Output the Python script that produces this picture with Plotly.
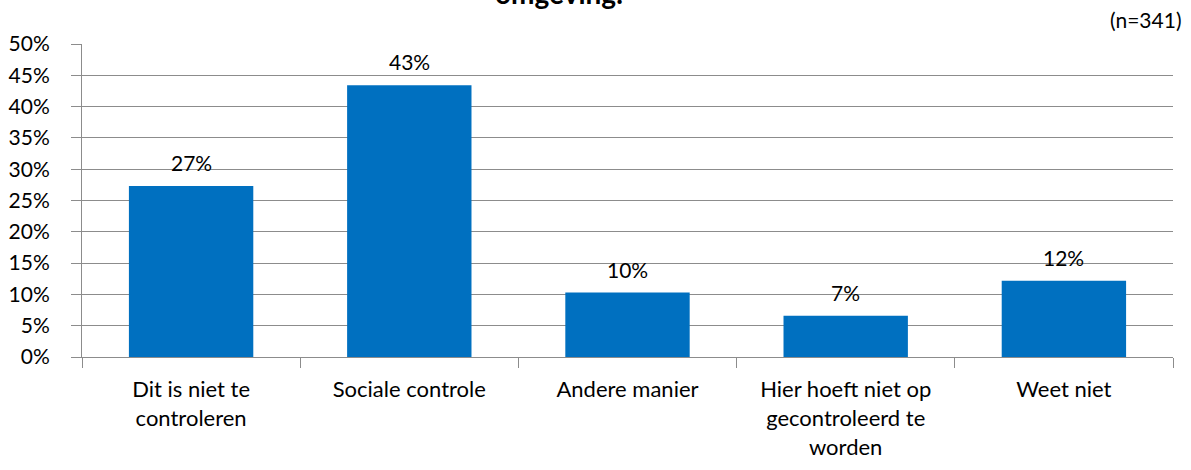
import plotly.graph_objects as go

# ── Data ────────────────────────────────────────────────────────────────────
categories = [
    "Dit is niet te<br>controleren",
    "Sociale controle",
    "Andere manier",
    "Hier hoeft niet op<br>gecontroleerd te<br>worden",
    "Weet niet",
]
values = [27.3, 43.4, 10.3, 6.6, 12.2]
y_ticks = [0, 5, 10, 15, 20, 25, 30, 35, 40, 45, 50]
y_ticklabels = [f"{t}%" for t in y_ticks]

BAR_COLOR = "#0070C0"
GRID_COLOR = "#8C8C8C"
FONT = "Lato, 'Open Sans', sans-serif"

fig = go.Figure(
    go.Bar(
        x=categories,
        y=values,
        marker=dict(color=BAR_COLOR, line=dict(width=0)),
        width=0.57,
        hoverinfo="x+y",
    )
)

# value labels above the bars
for cat, val in zip(categories, values):
    fig.add_annotation(
        x=cat, y=val,
        text=f"{val:.0f}%",
        xanchor="center", yanchor="bottom",
        yshift=9,
        showarrow=False,
        font=dict(size=21, family=FONT, color="#000000"),
    )

fig.update_layout(
    width=1191,
    height=470,
    margin=dict(l=82, r=18, t=44, b=113),
    paper_bgcolor="#ffffff",
    plot_bgcolor="#ffffff",
    font=dict(family=FONT, size=21, color="#000000"),
    showlegend=False,
    xaxis=dict(
        automargin=False,
        showgrid=False,
        showline=True,
        linecolor=GRID_COLOR,
        linewidth=1,
        ticks="outside",
        tickson="boundaries",
        ticklen=10,
        tickcolor=GRID_COLOR,
        ticklabelstandoff=13,
        tickfont=dict(size=22),
    ),
    yaxis=dict(
        automargin=False,
        range=[0, 50],
        tickvals=y_ticks,
        ticktext=y_ticklabels,
        showgrid=True,
        gridcolor=GRID_COLOR,
        gridwidth=1,
        zeroline=False,
        showline=True,
        linecolor=GRID_COLOR,
        linewidth=1,
        ticks="outside",
        ticklen=10,
        tickcolor=GRID_COLOR,
        ticklabelstandoff=17,
        tickfont=dict(size=21),
    ),
)

# Title (only its last line is visible in the frame)
fig.add_annotation(
    text="<b>omgeving.</b>",
    xref="paper", yref="paper",
    x=0.437, y=1.0,
    xanchor="center", yanchor="bottom",
    yshift=32,
    showarrow=False,
    font=dict(size=28, family=FONT, color="#000000"),
)

fig.add_annotation(
    text="(n=341)",
    xref="paper", yref="paper",
    x=1.0, y=1.0,
    xanchor="right", yanchor="bottom",
    xshift=10, yshift=10,
    showarrow=False,
    font=dict(size=21, family=FONT, color="#000000"),
)

# drop the default page margin so the chart sits flush with the window
fig.write_html(
    "out.html",
    config={"displayModeBar": False},
    post_script="document.body.style.margin='0';",
)
